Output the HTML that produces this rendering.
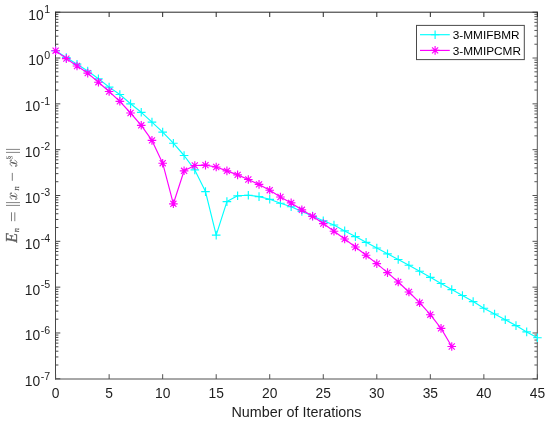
<!DOCTYPE html><html><head><meta charset="utf-8"><style>
html,body{margin:0;padding:0;background:#fff;}
body{width:550px;height:422px;overflow:hidden;}
svg{display:block;will-change:transform;}
text{font-family:"Liberation Sans",sans-serif;}
</style></head><body>
<svg width="550" height="422" viewBox="0 0 550 422">
<rect x="0" y="0" width="550" height="422" fill="#fff"/>
<path d="M55.50,378.80H60.30M55.50,365.01H58.40M55.50,356.94H58.40M55.50,351.21H58.40M55.50,346.77H58.40M55.50,343.14H58.40M55.50,340.07H58.40M55.50,337.42H58.40M55.50,335.07H58.40M55.50,332.98H60.30M55.50,319.18H58.40M55.50,311.11H58.40M55.50,305.39H58.40M55.50,300.94H58.40M55.50,297.32H58.40M55.50,294.25H58.40M55.50,291.59H58.40M55.50,289.25H58.40M55.50,287.15H60.30M55.50,273.36H58.40M55.50,265.29H58.40M55.50,259.56H58.40M55.50,255.12H58.40M55.50,251.49H58.40M55.50,248.42H58.40M55.50,245.77H58.40M55.50,243.42H58.40M55.50,241.32H60.30M55.50,227.53H58.40M55.50,219.46H58.40M55.50,213.74H58.40M55.50,209.29H58.40M55.50,205.67H58.40M55.50,202.60H58.40M55.50,199.94H58.40M55.50,197.60H58.40M55.50,195.50H60.30M55.50,181.71H58.40M55.50,173.64H58.40M55.50,167.91H58.40M55.50,163.47H58.40M55.50,159.84H58.40M55.50,156.77H58.40M55.50,154.12H58.40M55.50,151.77H58.40M55.50,149.68H60.30M55.50,135.88H58.40M55.50,127.81H58.40M55.50,122.09H58.40M55.50,117.64H58.40M55.50,114.02H58.40M55.50,110.95H58.40M55.50,108.29H58.40M55.50,105.95H58.40M55.50,103.85H60.30M55.50,90.06H58.40M55.50,81.99H58.40M55.50,76.26H58.40M55.50,71.82H58.40M55.50,68.19H58.40M55.50,65.12H58.40M55.50,62.47H58.40M55.50,60.12H58.40M55.50,58.03H60.30M55.50,44.23H58.40M55.50,36.16H58.40M55.50,30.44H58.40M55.50,25.99H58.40M55.50,22.37H58.40M55.50,19.30H58.40M55.50,16.64H58.40M55.50,14.30H58.40M55.50,12.20H60.30M55.50,11.70V379.50" stroke="#474747" stroke-width="1.0" fill="none"/>
<path d="M537.30,378.80H532.50M537.30,365.01H534.40M537.30,356.94H534.40M537.30,351.21H534.40M537.30,346.77H534.40M537.30,343.14H534.40M537.30,340.07H534.40M537.30,337.42H534.40M537.30,335.07H534.40M537.30,332.98H532.50M537.30,319.18H534.40M537.30,311.11H534.40M537.30,305.39H534.40M537.30,300.94H534.40M537.30,297.32H534.40M537.30,294.25H534.40M537.30,291.59H534.40M537.30,289.25H534.40M537.30,287.15H532.50M537.30,273.36H534.40M537.30,265.29H534.40M537.30,259.56H534.40M537.30,255.12H534.40M537.30,251.49H534.40M537.30,248.42H534.40M537.30,245.77H534.40M537.30,243.42H534.40M537.30,241.32H532.50M537.30,227.53H534.40M537.30,219.46H534.40M537.30,213.74H534.40M537.30,209.29H534.40M537.30,205.67H534.40M537.30,202.60H534.40M537.30,199.94H534.40M537.30,197.60H534.40M537.30,195.50H532.50M537.30,181.71H534.40M537.30,173.64H534.40M537.30,167.91H534.40M537.30,163.47H534.40M537.30,159.84H534.40M537.30,156.77H534.40M537.30,154.12H534.40M537.30,151.77H534.40M537.30,149.68H532.50M537.30,135.88H534.40M537.30,127.81H534.40M537.30,122.09H534.40M537.30,117.64H534.40M537.30,114.02H534.40M537.30,110.95H534.40M537.30,108.29H534.40M537.30,105.95H534.40M537.30,103.85H532.50M537.30,90.06H534.40M537.30,81.99H534.40M537.30,76.26H534.40M537.30,71.82H534.40M537.30,68.19H534.40M537.30,65.12H534.40M537.30,62.47H534.40M537.30,60.12H534.40M537.30,58.03H532.50M537.30,44.23H534.40M537.30,36.16H534.40M537.30,30.44H534.40M537.30,25.99H534.40M537.30,22.37H534.40M537.30,19.30H534.40M537.30,16.64H534.40M537.30,14.30H534.40M537.30,12.20H532.50M537.30,11.70V379.50" stroke="#555555" stroke-width="1.0" fill="none"/>
<path d="M55.60,379.00V374.20M109.13,379.00V374.20M162.67,379.00V374.20M216.20,379.00V374.20M269.73,379.00V374.20M323.27,379.00V374.20M376.80,379.00V374.20M430.33,379.00V374.20M483.87,379.00V374.20M537.40,379.00V374.20M55.00,379.00H537.80" stroke="#505050" stroke-width="1.0" fill="none"/>
<path d="M55.60,12.20V17.00M109.13,12.20V17.00M162.67,12.20V17.00M216.20,12.20V17.00M269.73,12.20V17.00M323.27,12.20V17.00M376.80,12.20V17.00M430.33,12.20V17.00M483.87,12.20V17.00M537.40,12.20V17.00M55.00,12.20H537.80" stroke="#262626" stroke-width="1.0" fill="none"/>
<polyline points="55.60,50.70 66.31,57.60 77.01,64.20 87.72,71.00 98.43,78.80 109.13,87.10 119.84,94.50 130.55,103.80 141.25,112.30 151.96,122.10 162.67,132.10 173.37,143.20 184.08,155.50 194.79,169.90 205.49,191.60 216.20,235.10 226.91,201.60 237.61,195.80 248.32,195.20 259.03,196.60 269.73,199.30 280.44,203.20 291.15,206.70 301.85,211.50 312.56,216.00 323.27,220.80 333.97,225.00 344.68,230.90 355.39,236.60 366.09,242.30 376.80,248.00 387.51,253.80 398.21,259.50 408.92,265.20 419.63,271.20 430.33,277.30 441.04,283.50 451.75,289.60 462.45,295.50 473.16,301.60 483.87,308.20 494.57,314.00 505.28,319.80 515.99,325.60 526.69,331.90 537.40,337.70" fill="none" stroke="#00ffff" stroke-width="1.15" stroke-linejoin="round"/>
<path d="M51.30,50.70H59.90M55.60,46.40V55.00M62.01,57.60H70.61M66.31,53.30V61.90M72.71,64.20H81.31M77.01,59.90V68.50M83.42,71.00H92.02M87.72,66.70V75.30M94.13,78.80H102.73M98.43,74.50V83.10M104.83,87.10H113.43M109.13,82.80V91.40M115.54,94.50H124.14M119.84,90.20V98.80M126.25,103.80H134.85M130.55,99.50V108.10M136.95,112.30H145.55M141.25,108.00V116.60M147.66,122.10H156.26M151.96,117.80V126.40M158.37,132.10H166.97M162.67,127.80V136.40M169.07,143.20H177.67M173.37,138.90V147.50M179.78,155.50H188.38M184.08,151.20V159.80M190.49,169.90H199.09M194.79,165.60V174.20M201.19,191.60H209.79M205.49,187.30V195.90M211.90,235.10H220.50M216.20,230.80V239.40M222.61,201.60H231.21M226.91,197.30V205.90M233.31,195.80H241.91M237.61,191.50V200.10M244.02,195.20H252.62M248.32,190.90V199.50M254.73,196.60H263.33M259.03,192.30V200.90M265.43,199.30H274.03M269.73,195.00V203.60M276.14,203.20H284.74M280.44,198.90V207.50M286.85,206.70H295.45M291.15,202.40V211.00M297.55,211.50H306.15M301.85,207.20V215.80M308.26,216.00H316.86M312.56,211.70V220.30M318.97,220.80H327.57M323.27,216.50V225.10M329.67,225.00H338.27M333.97,220.70V229.30M340.38,230.90H348.98M344.68,226.60V235.20M351.09,236.60H359.69M355.39,232.30V240.90M361.79,242.30H370.39M366.09,238.00V246.60M372.50,248.00H381.10M376.80,243.70V252.30M383.21,253.80H391.81M387.51,249.50V258.10M393.91,259.50H402.51M398.21,255.20V263.80M404.62,265.20H413.22M408.92,260.90V269.50M415.33,271.20H423.93M419.63,266.90V275.50M426.03,277.30H434.63M430.33,273.00V281.60M436.74,283.50H445.34M441.04,279.20V287.80M447.45,289.60H456.05M451.75,285.30V293.90M458.15,295.50H466.75M462.45,291.20V299.80M468.86,301.60H477.46M473.16,297.30V305.90M479.57,308.20H488.17M483.87,303.90V312.50M490.27,314.00H498.87M494.57,309.70V318.30M500.98,319.80H509.58M505.28,315.50V324.10M511.69,325.60H520.29M515.99,321.30V329.90M522.39,331.90H530.99M526.69,327.60V336.20M533.10,337.70H541.70M537.40,333.40V342.00" stroke="#00ffff" stroke-width="1.15" fill="none"/>
<polyline points="55.60,50.70 66.31,58.60 77.01,66.00 87.72,73.10 98.43,82.20 109.13,91.50 119.84,101.30 130.55,113.00 141.25,125.30 151.96,140.40 162.67,163.20 173.37,203.80 184.08,170.80 194.79,165.50 205.49,165.10 216.20,167.00 226.91,170.90 237.61,174.90 248.32,179.50 259.03,184.40 269.73,190.20 280.44,197.00 291.15,202.90 301.85,209.80 312.56,216.30 323.27,223.60 333.97,231.20 344.68,239.00 355.39,247.00 366.09,255.20 376.80,263.60 387.51,272.60 398.21,282.00 408.92,292.00 419.63,302.70 430.33,314.70 441.04,328.40 451.75,346.50" fill="none" stroke="#ff00ff" stroke-width="1.15" stroke-linejoin="round"/>
<path d="M51.30,50.70H59.90M55.60,46.40V55.00M52.56,47.66L58.64,53.74M52.56,53.74L58.64,47.66M62.01,58.60H70.61M66.31,54.30V62.90M63.27,55.56L69.35,61.64M63.27,61.64L69.35,55.56M72.71,66.00H81.31M77.01,61.70V70.30M73.97,62.96L80.05,69.04M73.97,69.04L80.05,62.96M83.42,73.10H92.02M87.72,68.80V77.40M84.68,70.06L90.76,76.14M84.68,76.14L90.76,70.06M94.13,82.20H102.73M98.43,77.90V86.50M95.39,79.16L101.47,85.24M95.39,85.24L101.47,79.16M104.83,91.50H113.43M109.13,87.20V95.80M106.09,88.46L112.17,94.54M106.09,94.54L112.17,88.46M115.54,101.30H124.14M119.84,97.00V105.60M116.80,98.26L122.88,104.34M116.80,104.34L122.88,98.26M126.25,113.00H134.85M130.55,108.70V117.30M127.51,109.96L133.59,116.04M127.51,116.04L133.59,109.96M136.95,125.30H145.55M141.25,121.00V129.60M138.21,122.26L144.29,128.34M138.21,128.34L144.29,122.26M147.66,140.40H156.26M151.96,136.10V144.70M148.92,137.36L155.00,143.44M148.92,143.44L155.00,137.36M158.37,163.20H166.97M162.67,158.90V167.50M159.63,160.16L165.71,166.24M159.63,166.24L165.71,160.16M169.07,203.80H177.67M173.37,199.50V208.10M170.33,200.76L176.41,206.84M170.33,206.84L176.41,200.76M179.78,170.80H188.38M184.08,166.50V175.10M181.04,167.76L187.12,173.84M181.04,173.84L187.12,167.76M190.49,165.50H199.09M194.79,161.20V169.80M191.75,162.46L197.83,168.54M191.75,168.54L197.83,162.46M201.19,165.10H209.79M205.49,160.80V169.40M202.45,162.06L208.53,168.14M202.45,168.14L208.53,162.06M211.90,167.00H220.50M216.20,162.70V171.30M213.16,163.96L219.24,170.04M213.16,170.04L219.24,163.96M222.61,170.90H231.21M226.91,166.60V175.20M223.87,167.86L229.95,173.94M223.87,173.94L229.95,167.86M233.31,174.90H241.91M237.61,170.60V179.20M234.57,171.86L240.65,177.94M234.57,177.94L240.65,171.86M244.02,179.50H252.62M248.32,175.20V183.80M245.28,176.46L251.36,182.54M245.28,182.54L251.36,176.46M254.73,184.40H263.33M259.03,180.10V188.70M255.99,181.36L262.07,187.44M255.99,187.44L262.07,181.36M265.43,190.20H274.03M269.73,185.90V194.50M266.69,187.16L272.77,193.24M266.69,193.24L272.77,187.16M276.14,197.00H284.74M280.44,192.70V201.30M277.40,193.96L283.48,200.04M277.40,200.04L283.48,193.96M286.85,202.90H295.45M291.15,198.60V207.20M288.11,199.86L294.19,205.94M288.11,205.94L294.19,199.86M297.55,209.80H306.15M301.85,205.50V214.10M298.81,206.76L304.89,212.84M298.81,212.84L304.89,206.76M308.26,216.30H316.86M312.56,212.00V220.60M309.52,213.26L315.60,219.34M309.52,219.34L315.60,213.26M318.97,223.60H327.57M323.27,219.30V227.90M320.23,220.56L326.31,226.64M320.23,226.64L326.31,220.56M329.67,231.20H338.27M333.97,226.90V235.50M330.93,228.16L337.01,234.24M330.93,234.24L337.01,228.16M340.38,239.00H348.98M344.68,234.70V243.30M341.64,235.96L347.72,242.04M341.64,242.04L347.72,235.96M351.09,247.00H359.69M355.39,242.70V251.30M352.35,243.96L358.43,250.04M352.35,250.04L358.43,243.96M361.79,255.20H370.39M366.09,250.90V259.50M363.05,252.16L369.13,258.24M363.05,258.24L369.13,252.16M372.50,263.60H381.10M376.80,259.30V267.90M373.76,260.56L379.84,266.64M373.76,266.64L379.84,260.56M383.21,272.60H391.81M387.51,268.30V276.90M384.47,269.56L390.55,275.64M384.47,275.64L390.55,269.56M393.91,282.00H402.51M398.21,277.70V286.30M395.17,278.96L401.25,285.04M395.17,285.04L401.25,278.96M404.62,292.00H413.22M408.92,287.70V296.30M405.88,288.96L411.96,295.04M405.88,295.04L411.96,288.96M415.33,302.70H423.93M419.63,298.40V307.00M416.59,299.66L422.67,305.74M416.59,305.74L422.67,299.66M426.03,314.70H434.63M430.33,310.40V319.00M427.29,311.66L433.37,317.74M427.29,317.74L433.37,311.66M436.74,328.40H445.34M441.04,324.10V332.70M438.00,325.36L444.08,331.44M438.00,331.44L444.08,325.36M447.45,346.50H456.05M451.75,342.20V350.80M448.71,343.46L454.79,349.54M448.71,349.54L454.79,343.46" stroke="#ff00ff" stroke-width="1.15" fill="none"/>
<text x="55.60" y="397.8" font-size="13.8" fill="#1e1e1e" text-anchor="middle">0</text>
<text x="109.13" y="397.8" font-size="13.8" fill="#1e1e1e" text-anchor="middle">5</text>
<text x="162.67" y="397.8" font-size="13.8" fill="#1e1e1e" text-anchor="middle">10</text>
<text x="216.20" y="397.8" font-size="13.8" fill="#1e1e1e" text-anchor="middle">15</text>
<text x="269.73" y="397.8" font-size="13.8" fill="#1e1e1e" text-anchor="middle">20</text>
<text x="323.27" y="397.8" font-size="13.8" fill="#1e1e1e" text-anchor="middle">25</text>
<text x="376.80" y="397.8" font-size="13.8" fill="#1e1e1e" text-anchor="middle">30</text>
<text x="430.33" y="397.8" font-size="13.8" fill="#1e1e1e" text-anchor="middle">35</text>
<text x="483.87" y="397.8" font-size="13.8" fill="#1e1e1e" text-anchor="middle">40</text>
<text x="537.40" y="397.8" font-size="13.8" fill="#1e1e1e" text-anchor="middle">45</text>
<text x="50.2" y="386.20" fill="#1e1e1e" font-size="13.8" text-anchor="end">10<tspan font-size="10.6" dx="0.6" dy="-6.7">-7</tspan></text>
<text x="50.2" y="340.38" fill="#1e1e1e" font-size="13.8" text-anchor="end">10<tspan font-size="10.6" dx="0.6" dy="-6.7">-6</tspan></text>
<text x="50.2" y="294.55" fill="#1e1e1e" font-size="13.8" text-anchor="end">10<tspan font-size="10.6" dx="0.6" dy="-6.7">-5</tspan></text>
<text x="50.2" y="248.72" fill="#1e1e1e" font-size="13.8" text-anchor="end">10<tspan font-size="10.6" dx="0.6" dy="-6.7">-4</tspan></text>
<text x="50.2" y="202.90" fill="#1e1e1e" font-size="13.8" text-anchor="end">10<tspan font-size="10.6" dx="0.6" dy="-6.7">-3</tspan></text>
<text x="50.2" y="157.08" fill="#1e1e1e" font-size="13.8" text-anchor="end">10<tspan font-size="10.6" dx="0.6" dy="-6.7">-2</tspan></text>
<text x="50.2" y="111.25" fill="#1e1e1e" font-size="13.8" text-anchor="end">10<tspan font-size="10.6" dx="0.6" dy="-6.7">-1</tspan></text>
<text x="50.2" y="65.43" fill="#1e1e1e" font-size="13.8" text-anchor="end">10<tspan font-size="10.6" dx="0.6" dy="-6.7">0</tspan></text>
<text x="50.2" y="19.60" fill="#1e1e1e" font-size="13.8" text-anchor="end">10<tspan font-size="10.6" dx="0.6" dy="-6.7">1</tspan></text>
<text x="296.50" y="417.2" font-size="14.35" fill="#1e1e1e" text-anchor="middle">Number of Iterations</text>
<g transform="translate(16.8,242.5) rotate(-90)">
<text x="-0.30" y="0.30" style="font-family:'Liberation Serif',serif;font-style:italic" font-size="16" fill="#5c5c5c" stroke="#5c5c5c" stroke-width="0.3">E</text>
<text x="10.30" y="2.10" style="font-family:'Liberation Serif',serif;font-style:italic" font-size="8.4" fill="#5c5c5c" stroke="#5c5c5c" stroke-width="0.25">n</text>
<line x1="21.3" y1="-5.3" x2="30.2" y2="-5.3" stroke="#5c5c5c" stroke-width="0.8"/>
<line x1="21.3" y1="-2.0" x2="30.2" y2="-2.0" stroke="#5c5c5c" stroke-width="0.8"/>
<path d="M43.40,-5.00C43.80,-6.30 45.10,-6.90 46.10,-6.60C46.80,-6.40 47.10,-5.90 46.90,-5.00L45.80,-1.20C45.60,-0.30 46.10,0.10 46.80,0.10C47.80,0.00 48.70,-0.80 49.10,-1.90M49.50,-5.90C49.40,-6.50 48.80,-6.80 48.10,-6.60C47.40,-6.30 47.10,-5.70 46.80,-5.20M45.90,-1.50C45.60,-0.60 45.00,0.10 44.10,0.10C43.50,0.10 43.10,-0.30 43.10,-0.90" fill="none" stroke="#5c5c5c" stroke-width="0.75" stroke-linecap="round"/><path d="M46.95,-5.20L45.85,-1.20" stroke="#5c5c5c" stroke-width="1.2"/><circle cx="49.25" cy="-5.6" r="0.7" fill="#5c5c5c"/><circle cx="43.40" cy="-1.0" r="0.7" fill="#5c5c5c"/>
<text x="51.90" y="1.90" style="font-family:'Liberation Serif',serif;font-style:italic" font-size="8.4" fill="#5c5c5c" stroke="#5c5c5c" stroke-width="0.25">n</text>
<line x1="61.7" y1="-4.5" x2="69.6" y2="-4.5" stroke="#5c5c5c" stroke-width="0.8"/>
<path d="M76.50,-5.00C76.90,-6.30 78.20,-6.90 79.20,-6.60C79.90,-6.40 80.20,-5.90 80.00,-5.00L78.90,-1.20C78.70,-0.30 79.20,0.10 79.90,0.10C80.90,0.00 81.80,-0.80 82.20,-1.90M82.60,-5.90C82.50,-6.50 81.90,-6.80 81.20,-6.60C80.50,-6.30 80.20,-5.70 79.90,-5.20M79.00,-1.50C78.70,-0.60 78.10,0.10 77.20,0.10C76.60,0.10 76.20,-0.30 76.20,-0.90" fill="none" stroke="#5c5c5c" stroke-width="0.75" stroke-linecap="round"/><path d="M80.05,-5.20L78.95,-1.20" stroke="#5c5c5c" stroke-width="1.2"/><circle cx="82.35" cy="-5.6" r="0.7" fill="#5c5c5c"/><circle cx="76.50" cy="-1.0" r="0.7" fill="#5c5c5c"/>
<text x="82.80" y="-5.00" style="font-family:'Liberation Serif',serif" font-size="8.8" fill="#5c5c5c">§</text>
<line x1="37.10" y1="-10.8" x2="37.10" y2="3.2" stroke="#5c5c5c" stroke-width="0.75"/>
<line x1="39.90" y1="-10.8" x2="39.90" y2="3.2" stroke="#5c5c5c" stroke-width="0.75"/>
<line x1="90.10" y1="-10.8" x2="90.10" y2="3.2" stroke="#5c5c5c" stroke-width="0.75"/>
<line x1="93.10" y1="-10.8" x2="93.10" y2="3.2" stroke="#5c5c5c" stroke-width="0.75"/>
</g>
<rect x="416.5" y="25.4" width="107.80" height="34.20" fill="#fff" stroke="#4a4a4a" stroke-width="1.0"/>
<path d="M420,34.7H449.8" stroke="#00ffff" stroke-width="1.15"/>
<path d="M430.80,34.70H439.40M435.10,30.40V39.00" stroke="#00ffff" stroke-width="1.15" fill="none"/>
<path d="M420,50.4H449.8" stroke="#ff00ff" stroke-width="1.15"/>
<path d="M430.80,50.40H439.40M435.10,46.10V54.70M432.06,47.36L438.14,53.44M432.06,53.44L438.14,47.36" stroke="#ff00ff" stroke-width="1.15" fill="none"/>
<text x="452.8" y="38.90" font-size="11.8" fill="#000">3-MMIFBMR</text>
<text x="452.8" y="54.60" font-size="11.8" fill="#000">3-MMIPCMR</text>
</svg></body></html>
